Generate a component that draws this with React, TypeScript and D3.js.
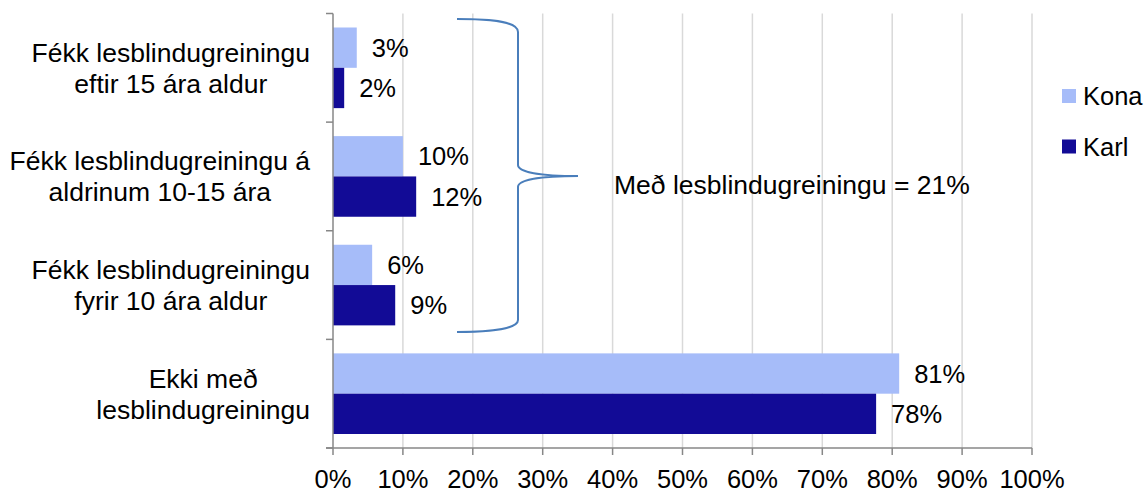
import * as React from "react";
import * as d3 from "d3";

const categories = [
	["Fékk lesblindugreiningu", "eftir 15 ára aldur"],
	["Fékk lesblindugreiningu á", "aldrinum 10-15 ára"],
	["Fékk lesblindugreiningu", "fyrir 10 ára aldur"],
	["Ekki með", "lesblindugreiningu"],
];
const series = ["Kona", "Karl"];
const konaValues = [3.4, 10, 5.6, 81];
const karlValues = [1.6, 11.9, 8.9, 77.7];
const xTicks = [0, 10, 20, 30, 40, 50, 60, 70, 80, 90, 100];
const annotation = "Með lesblindugreiningu = 21%";

const colors = ["#a6bcf9", "#120b96"];
const axisColor = "#878787";
const gridColor = "#d9d9d9";
const braceColor = "#4a7ebb";
const font = "'Liberation Sans', Arial, sans-serif";

const width = 1148;
const height = 493;
const plotLeft = 333;
const plotRight = 1032;
const plotTop = 13.5;
const plotBottom = 448;
const labelRight = 310;

function App() {
	const xScale = React.useMemo(
		() => d3.scaleLinear([0, 100], [plotLeft, plotRight]),
		[]
	);
	const yScale = React.useMemo(
		() =>
			d3
				.scaleBand<number>()
				.domain(d3.range(categories.length))
				.range([plotTop, plotBottom]),
		[]
	);
	const bandPad = 14;
	const inner = React.useMemo(
		() =>
			d3
				.scaleBand<string>()
				.domain(series)
				.range([bandPad, yScale.bandwidth() - bandPad]),
		[yScale]
	);
	const values = [konaValues, karlValues];

	// centre each two-line label on its widest line, right edge at labelRight
	const labelsRef = React.useRef<SVGGElement>(null);
	React.useLayoutEffect(() => {
		d3.select(labelsRef.current)
			.selectAll<SVGTextElement, unknown>("text.cat")
			.each(function () {
				const t = d3.select(this);
				let max = 0;
				t.selectAll<SVGTSpanElement, unknown>("tspan").each(function () {
					max = Math.max(max, this.getComputedTextLength());
				});
				const cx = labelRight - max / 2;
				t.attr("x", cx);
				t.selectAll("tspan").attr("x", cx);
			});
	}, []);

	const bandH = yScale.bandwidth();
	const boundaries = d3.range(categories.length + 1).map((i) => plotTop + i * bandH);

	const brace = d3.path();
	brace.moveTo(457, 19);
	brace.bezierCurveTo(495, 19, 518, 22, 518, 32);
	brace.lineTo(518, 165);
	brace.bezierCurveTo(518, 172, 540, 176, 578, 176);
	brace.bezierCurveTo(540, 176, 518, 180, 518, 187);
	brace.lineTo(518, 320);
	brace.bezierCurveTo(518, 328, 495, 332, 457, 332);

	return (
		<svg
			width={width}
			height={height}
			style={{ position: "absolute", left: 0, top: 0, background: "white" }}
			fontFamily={font}
		>
			{/* gridlines */}
			{xTicks.slice(1).map((t) => (
				<line
					key={`g${t}`}
					x1={xScale(t)}
					x2={xScale(t)}
					y1={plotTop}
					y2={plotBottom}
					stroke={gridColor}
					strokeWidth={1.5}
				/>
			))}
			{/* bars */}
			{categories.map((_, i) =>
				series.map((s, j) => {
					const v = values[j][i];
					const y = yScale(i)! + inner(s)!;
					return (
						<g key={`${i}-${s}`}>
							<rect
								x={xScale(0)}
								y={y}
								width={xScale(v) - xScale(0)}
								height={inner.bandwidth()}
								fill={colors[j]}
							/>
							<text
								x={xScale(v) + 15}
								y={y + inner.bandwidth() / 2}
								dy="0.36em"
								fontSize={25.5}
								fill="#000"
							>
								{`${Math.round(v)}%`}
							</text>
						</g>
					);
				})
			)}
			{/* axes */}
			<line x1={plotLeft} x2={plotLeft} y1={plotTop} y2={plotBottom} stroke={axisColor} strokeWidth={1.5} />
			{boundaries.map((b, i) => (
				<line key={`yt${i}`} x1={plotLeft - 7} x2={plotLeft} y1={b} y2={b} stroke={axisColor} strokeWidth={1.5} />
			))}
			<line x1={plotLeft - 7} x2={plotRight} y1={plotBottom} y2={plotBottom} stroke={axisColor} strokeWidth={1.5} />
			{xTicks.map((t) => (
				<g key={`xt${t}`}>
					<line x1={xScale(t)} x2={xScale(t)} y1={plotBottom} y2={plotBottom + 7} stroke={axisColor} strokeWidth={1.5} />
					<text x={xScale(t)} y={488} textAnchor="middle" fontSize={25.5} fill="#000">
						{`${t}%`}
					</text>
				</g>
			))}
			{/* category labels */}
			<g ref={labelsRef}>
				{categories.map((lines, i) => {
					const cy = yScale(i)! + bandH / 2;
					return (
						<text
							key={`c${i}`}
							className="cat"
							x={labelRight}
							y={cy - 6}
							textAnchor="middle"
							fontSize={26.5}
							fill="#000"
						>
							{lines.map((l, k) => (
								<tspan key={k} x={labelRight} y={cy - 6 + k * 31}>
									{l}
								</tspan>
							))}
						</text>
					);
				})}
			</g>
			{/* brace annotation */}
			<path d={brace.toString()} fill="none" stroke={braceColor} strokeWidth={2} />
			<text x={614} y={194} fontSize={26.5} fill="#000">
				{annotation}
			</text>
			{/* legend */}
			{series.map((s, j) => (
				<g key={`l${s}`} transform={`translate(1062 ${89 + j * 50.5})`}>
					<rect width={14} height={14} fill={colors[j]} />
					<text x={21} y={16} fontSize={25.5} fill="#000">
						{s}
					</text>
				</g>
			))}
		</svg>
	);
}

export default App;
